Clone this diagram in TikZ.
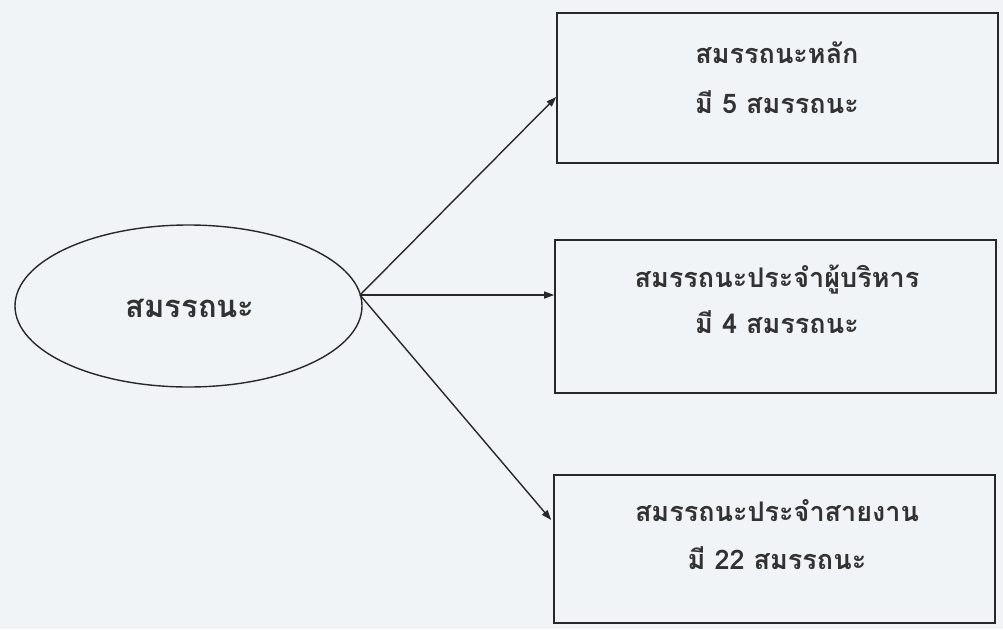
\documentclass[tikz,border=0pt]{standalone}
\usepackage{fontspec}
\newfontfamily\thaifont[Script=Thai]{Loma}
\usetikzlibrary{shapes.geometric,arrows.meta}
\definecolor{bg}{RGB}{241,244,246}
\definecolor{ink}{RGB}{40,40,40}
\definecolor{txt}{RGB}{50,50,50}
\tikzset{
  box/.style={draw=ink, line width=1.6pt, minimum width=441pt, inner sep=0pt},
  oval/.style={ellipse, draw=ink, line width=1.4pt, minimum width=347pt, minimum height=162pt, inner sep=0pt},
  lbl/.style={text=txt, font=\thaifont\bfseries\fontsize{27}{30}\selectfont, align=center, inner sep=0pt},
  conn/.style={draw=ink, line width=1.4pt, -{Triangle[length=10pt,width=7pt]}}
}
\begin{document}
\begin{tikzpicture}[x=1pt,y=-1pt]
\fill[bg] (0,0) rectangle (1003,629);
\useasboundingbox (0,0) rectangle (1003,629);
\node[oval] (ell) at (188.5,306) {};
\node[lbl, font=\thaifont\bfseries\fontsize{31}{34}\selectfont] (ellt) at (190,308) {สมรรถนะ};
\node[box, minimum height=150pt] (b1) at (777.5,88) {};
\node[box, minimum height=153pt] (b2) at (775.5,316.5) {};
\node[box, minimum height=148pt] (b3) at (774.5,549) {};
\node[lbl] (b1t) at (777,78) {สมรรถนะหลัก\\[20pt]มี 5 สมรรถนะ};
\node[lbl] (b2t) at (777,299) {สมรรถนะประจำผู้บริหาร\\[16pt]มี 4 สมรรถนะ};
\node[lbl] (b3t) at (777,535) {สมรรถนะประจำสายงาน\\[18pt]มี 22 สมรรถนะ};
\coordinate (hub) at (360,295);
\draw[conn] (hub) -- ([yshift=-9pt]b1.west);
\draw[conn] (hub) -- ([yshift=21.5pt]b2.west);
\draw[conn] (hub) -- ([yshift=29pt,xshift=-2pt]b3.west);
\end{tikzpicture}
\end{document}
